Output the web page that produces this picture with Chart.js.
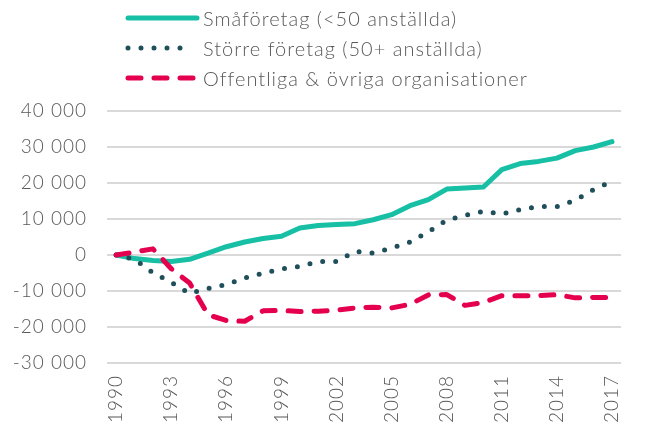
<!DOCTYPE html>
<html>
<head>
<meta charset="utf-8">
<script src="https://cdn.jsdelivr.net/npm/chart.js@4"></script>
<style>
  html, body { margin: 0; padding: 0; background: #fff; }
  #wrap { position: relative; width: 647px; height: 425px; }
  #legend { position: absolute; left: 125px; top: 3px; font-family: Lato, sans-serif; font-weight: 300;
            font-size: 20px; letter-spacing: 1px; color: #595959; white-space: nowrap; }
  .row { display: flex; align-items: center; height: 30px; }
  .row svg { flex: none; width: 76px; height: 12px; margin-right: 2px; }
</style>
</head>
<body>
<div id="wrap">
  <canvas id="chart" width="647" height="425"></canvas>
  <div id="legend"></div>
</div>
<script>
const years = ['1990','1991','1992','1993','1994','1995','1996','1997','1998','1999',
  '2000','2001','2002','2003','2004','2005','2006','2007','2008','2009',
  '2010','2011','2012','2013','2014','2015','2016','2017'];
const shownYears = ['1990','1993','1996','1999','2002','2005','2008','2011','2014','2017'];

const seriesNames = ['Småföretag (<50 anställda)', 'Större företag (50+ anställda)', 'Offentliga & övriga organisationer'];

const smaforetag = [0, -1000, -1500, -1800, -1200, 500, 2300, 3600, 4600, 5200,
  7500, 8200, 8500, 8700, 9800, 11200, 13700, 15400, 18300, 18600,
  18900, 23700, 25400, 26000, 26900, 29000, 30000, 31500];
const storre = [0, -1200, -4900, -7600, -10700, -9300, -8200, -6400, -5100, -3900,
  -3200, -1800, -1800, 1000, 550, 1950, 3600, 6450, 9700, 11000,
  12100, 11400, 12600, 13500, 13400, 15200, 18200, 20400];
const offentliga = [0, 800, 1700, -3800, -7800, -16600, -18200, -18400, -15500, -15400,
  -15700, -15600, -15300, -14700, -14500, -14700, -13700, -11100, -11000, -14000,
  -13200, -11300, -11300, -11300, -11000, -11900, -11800, -11800];

const COLORS = ['#17bfa5', '#1f4f5a', '#e5004f'];
const DASHES = [[], [0, 13], [13, 13]];
const LEGEND_END = [72, 58, 72]; // dotted sample shows five dots
const textColor = '#595959';
const FONT = { family: 'Lato', size: 19, weight: 300 };

// legend as plain html, line samples in svg
const legendEl = document.getElementById('legend');
seriesNames.forEach((name, i) => {
  const dash = DASHES[i].length ? `stroke-dasharray="${DASHES[i].join(' ')}"` : '';
  legendEl.innerHTML += `<div class="row"><svg viewBox="0 0 76 12">
    <line x1="3" y1="6" x2="${LEGEND_END[i]}" y2="6" stroke="${COLORS[i]}" stroke-width="5" stroke-linecap="round" ${dash}/>
    </svg><span>${name}</span></div>`;
});

function fmt(v) {
  const s = String(Math.abs(v)).replace(/\B(?=(\d{3})+(?!\d))/g, ' ');
  return (v < 0 ? '-' : '') + s;
}

const datasets = [smaforetag, storre, offentliga].map((data, i) => ({
  label: seriesNames[i],
  data,
  borderColor: COLORS[i],
  borderWidth: 5,
  borderDash: DASHES[i],
  borderCapStyle: 'round',
  borderJoinStyle: 'round',
  pointRadius: 0,
  fill: false,
  tension: 0,
}));
// red drawn on top, teal at the bottom
datasets[0].order = 3;
datasets[1].order = 2;
datasets[2].order = 1;

// the reference font runs wider than Lato, so spread the tick text a bit
const spacing = {
  id: 'spacing',
  beforeDraw: (chart) => { chart.ctx.letterSpacing = '1px'; },
};

new Chart(document.getElementById('chart'), {
  type: 'line',
  data: { labels: years, datasets },
  plugins: [spacing],
  options: {
    responsive: false,
    animation: false,
    layout: { padding: { top: 111, right: 12, left: 0, bottom: 0 } },
    plugins: { legend: { display: false }, tooltip: { enabled: false } },
    scales: {
      x: {
        offset: true,
        grid: { display: false, drawTicks: false },
        border: { display: false },
        ticks: {
          autoSkip: false,
          maxRotation: 90,
          minRotation: 90,
          padding: 12,
          color: textColor,
          font: FONT,
          callback: (v, i) => (shownYears.includes(years[i]) ? years[i] : ''),
        },
        afterFit: (s) => { s.height = 62; },
      },
      y: {
        min: -30000,
        max: 40000,
        grid: { color: '#d9d9d9', lineWidth: 2, drawTicks: false },
        border: { display: false },
        ticks: {
          stepSize: 10000,
          padding: 20,
          color: textColor,
          font: FONT,
          callback: (v) => fmt(v),
        },
        afterFit: (s) => { s.width = 107; },
      },
    },
  },
});
</script>
</body>
</html>
